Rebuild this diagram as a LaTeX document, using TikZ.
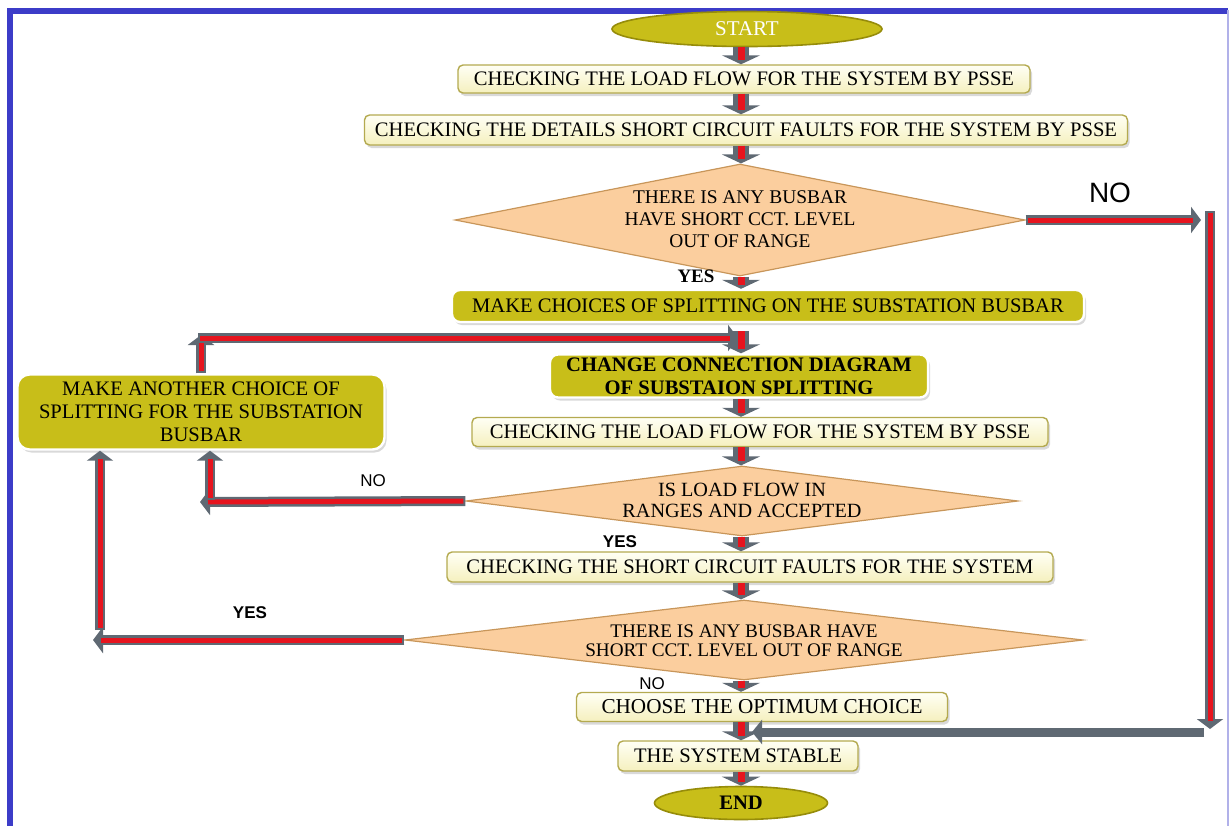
\documentclass[tikz,border=0pt]{standalone}
\usepackage{fontspec}
\setmainfont{Liberation Serif}
\setsansfont{Liberation Sans}
\usepackage{tikz}
\usetikzlibrary{shapes.geometric,arrows.meta,shadows}
\definecolor{olivefill}{RGB}{200,190,25}
\definecolor{olivedark}{RGB}{150,140,10}
\definecolor{creamtop}{RGB}{255,255,245}
\definecolor{creambot}{RGB}{245,240,190}
\definecolor{creamline}{RGB}{180,170,80}
\definecolor{peach}{RGB}{251,206,158}
\definecolor{peachline}{RGB}{200,150,90}
\definecolor{pipegray}{RGB}{95,105,115}
\definecolor{pipered}{RGB}{230,20,30}
\definecolor{frameblue}{RGB}{60,60,200}
\newcommand{\boxfont}{\fontsize{10.3}{11.5}\selectfont}
\newcommand{\tagfont}{\sffamily\fontsize{8.5}{10}\selectfont}
\tikzset{
	base/.style={font=\boxfont, align=center, inner sep=0pt},
	plain/.style={base, draw=creamline, line width=0.7pt, rounded corners=2.5pt, top color=creamtop, bottom color=creambot,
		drop shadow={opacity=0.3, shadow xshift=1pt, shadow yshift=-1.5pt}},
	olive/.style={base, draw=white, line width=1.2pt, rounded corners=4pt, fill=olivefill,
		drop shadow={opacity=0.3, shadow xshift=1pt, shadow yshift=-1.5pt}},
	terminal/.style={ellipse, draw=olivedark, line width=0.8pt, fill=olivefill, inner sep=0pt},
	decision/.style={diamond, draw=peachline, line width=0.6pt, fill=peach, inner sep=0pt},
	tag/.style={font=\tagfont},
	boldtag/.style={font=\tagfont\bfseries},
	flow/.style={draw=pipered, line width=3.5pt, shorten >=2pt,
		preaction={draw=pipegray, line width=8pt, shorten >=0pt, -{Triangle[width=19pt,length=4.5pt]}}},
	pipe/.style={draw=pipered, line width=2.5pt, shorten >=4pt, shorten <=1pt,
		preaction={draw=pipegray, line width=5pt, shorten >=0pt, shorten <=0pt, -{Triangle[width=13pt,length=5pt]}}},
	graypipe/.style={draw=pipegray, line width=4.5pt, -{Triangle[width=12pt,length=5pt]}}
}

\begin{document}
\begin{tikzpicture}[x=0.5pt, y=-0.5pt]
	\useasboundingbox (0,0) rectangle (1232,825);
	\draw[frameblue, line width=3pt] (10,830) -- (10,10.5) -- (1228,10.5);
	\draw[frameblue!40, line width=1pt] (1228,10) -- (1228,830);

	\coordinate (spine) at (741,0);

	\node[terminal, minimum width=135pt, minimum height=17.5pt, text=white, font=\fontsize{10.5}{12}\selectfont] (start) at (747,29) {START};
	\node[plain, minimum width=286pt, minimum height=14pt] (load1) at (744,79) {CHECKING THE LOAD FLOW FOR THE SYSTEM BY PSSE};
	\node[plain, minimum width=381.5pt, minimum height=15pt] (sc1) at (746,130) {CHECKING THE DETAILS SHORT CIRCUIT FAULTS FOR THE SYSTEM BY PSSE};
	\node[decision, minimum width=285pt, minimum height=56pt] (dec1) at (740,220) {};
	\node[base, font=\fontsize{9.7}{11}\selectfont] (dec1t) at (740,219) {THERE IS ANY BUSBAR\\HAVE SHORT CCT. LEVEL\\OUT OF RANGE};
	\node[olive, minimum width=316pt, minimum height=16pt] (split1) at (768,306) {MAKE CHOICES OF SPLITTING ON THE SUBSTATION BUSBAR};
	\node[olive, minimum width=189pt, minimum height=21.5pt, font=\boxfont\bfseries] (change) at (739,376) {CHANGE CONNECTION DIAGRAM\\OF SUBSTAION SPLITTING};
	\node[plain, minimum width=288pt, minimum height=14.5pt] (load2) at (760,432) {CHECKING THE LOAD FLOW FOR THE SYSTEM BY PSSE};
	\node[decision, minimum width=276pt, minimum height=35pt] (dec2) at (742,501) {};
	\node[base, font=\fontsize{10.1}{10.5}\selectfont] (dec2t) at (742,500) {IS LOAD FLOW IN\\RANGES AND ACCEPTED};
	\node[plain, minimum width=303pt, minimum height=15pt] (sc2) at (750,567) {CHECKING THE SHORT CIRCUIT FAULTS FOR THE SYSTEM};
	\node[decision, minimum width=339pt, minimum height=40pt] (dec3) at (744,640) {};
	\node[base, font=\fontsize{9.6}{9.5}\selectfont] (dec3t) at (744,641) {THERE IS ANY BUSBAR HAVE\\SHORT CCT. LEVEL OUT OF RANGE};
	\node[plain, minimum width=185.5pt, minimum height=14.5pt, font=\fontsize{10.6}{12}\selectfont] (optimum) at (762,707) {CHOOSE THE OPTIMUM CHOICE};
	\node[plain, minimum width=120pt, minimum height=15pt] (stable) at (738,756) {THE SYSTEM STABLE};
	\node[terminal, minimum width=86.5pt, minimum height=16.5pt, font=\boxfont\bfseries] (stop) at (741,803) {END};
	\node[olive, rounded corners=6pt, minimum width=183.5pt, minimum height=37.5pt] (another) at (201,412) {MAKE ANOTHER CHOICE OF\\SPLITTING FOR THE SUBSTATION\\BUSBAR};

	\node[font=\fontsize{9.5}{11}\selectfont\bfseries] (yes1) at (696,276) {YES};
	\node[font=\sffamily\fontsize{14}{16}\selectfont] (no1) at (1110,193) {NO};
	\node[tag] (no2) at (373,481) {NO};
	\node[boldtag] (yes2) at (620,542) {YES};
	\node[boldtag] (yes3) at (250,613) {YES};
	\node[tag] (no3) at (652,684) {NO};

	\draw[flow] (spine |- start.south) -- (spine |- load1.north);
	\draw[flow] (spine |- load1.south) -- (spine |- sc1.north);
	\draw[flow] (spine |- sc1.south) -- (spine |- dec1.north);
	\draw[flow] (spine |- dec1.south) -- (spine |- split1.north);
	\coordinate (join) at (741,331);
	\draw[flow] (join) -- (spine |- change.north);
	\draw[flow] (spine |- change.south) -- (spine |- load2.north);
	\draw[flow] (spine |- load2.south) -- (spine |- dec2.north);
	\draw[flow] (spine |- dec2.south) -- (spine |- sc2.north);
	\draw[flow] (spine |- sc2.south) -- (spine |- dec3.north);
	\draw[flow] (spine |- dec3.south) -- (spine |- optimum.north);
	\draw[flow] (spine |- optimum.south) -- (spine |- stable.north);
	\draw[flow] (spine |- stable.south) -- (spine |- stop.north);

	\coordinate (rhook) at (1201,220);
	\coordinate (rtop) at (1210,211);
	\coordinate (rbot) at (1210,729);
	\coordinate (rret) at (1204,732);
	\coordinate (rin) at (752,732);
	\draw[pipe] (dec1.east) -- (rhook);
	\draw[pipe] (rtop) -- (rbot);
	\draw[graypipe] (rret) -- (rin);

	\coordinate (nleft) at (200,502);
	\coordinate (nup) at (210,500);
	\draw[pipe] (dec2.west) -- (nleft);
	\draw[pipe] (nup) -- (nup |- another.south);

	\coordinate (yleft) at (93,640);
	\coordinate (yup) at (100,630);
	\draw[pipe] (dec3.west) -- (yleft);
	\draw[pipe] (yup) -- (yup |- another.south);

	\coordinate (back) at (201,335);
	\coordinate (bleft) at (198,338);
	\coordinate (bright) at (738,338);
	\draw[pipe] (another.north) -- (back);
	\draw[pipe] (bleft) -- (bright);
\end{tikzpicture}
\end{document}
